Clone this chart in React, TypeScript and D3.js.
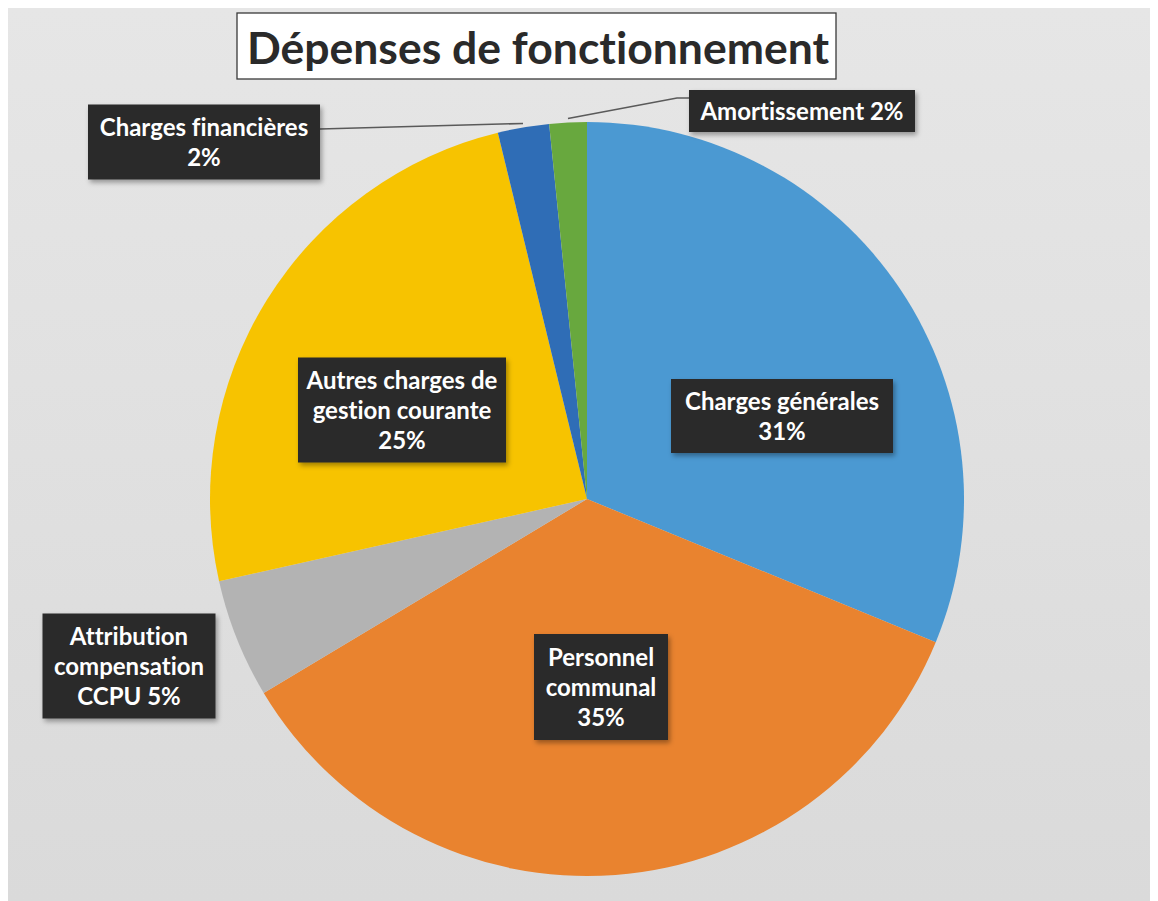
import React from "react";
import * as d3 from "d3";

const categories = [
  "Charges générales",
  "Personnel communal",
  "Attribution compensation CCPU",
  "Autres charges de gestion courante",
  "Charges financières",
  "Amortissement",
];
const values = [31.2, 35.2, 5.1, 24.7, 2.2, 1.6];
const percentLabels = ["31%", "35%", "5%", "25%", "2%", "2%"];
const labelLines = [
  ["Charges générales", "31%"],
  ["Personnel", "communal", "35%"],
  ["Attribution", "compensation", "CCPU 5%"],
  ["Autres charges de", "gestion courante", "25%"],
  ["Charges financières", "2%"],
  ["Amortissement 2%"],
];
const colors = ["#4b99d2", "#e9832f", "#b3b3b3", "#f7c300", "#2f6db6", "#68a83e"];
const title = "Dépenses de fonctionnement";

// layout (page coordinates): label box centers and sizes
const labelLayout = [
  { cx: 782, cy: 416, w: 222, h: 74 },
  { cx: 601, cy: 687, w: 134, h: 106 },
  { cx: 129, cy: 666, w: 173, h: 105 },
  { cx: 402, cy: 410, w: 208, h: 105 },
  { cx: 204, cy: 142, w: 232, h: 75 },
  { cx: 802, cy: 111, w: 226, h: 42 },
];

export default function App() {
  const W = 1158, H = 901;
  const cx = 587, cy = 499, r = 377;
  const pie = d3.pie<number>().sort(null).value((d) => d)(values);
  const arc = d3.arc<d3.PieArcDatum<number>>().innerRadius(0).outerRadius(r);
  const outer = d3.arc<d3.PieArcDatum<number>>().innerRadius(r + 2).outerRadius(r + 2);
  const font = "Lato, 'Open Sans', sans-serif";
  const lineH = 30;
  const line = d3.line();

  const finPt = outer.centroid(pie[4]);
  const amoPt = outer.centroid(pie[5]);
  const finBox = labelLayout[4];
  const amoBox = labelLayout[5];

  return (
    <svg width={W - 8} height={H - 8} style={{ display: "block" }}>
      <defs>
        <filter id="sh" x="-10%" y="-10%" width="130%" height="140%">
          <feDropShadow dx="2" dy="3" stdDeviation="2.5" floodColor="#000" floodOpacity="0.35" />
        </filter>
        <linearGradient id="bg" x1="0" y1="0" x2="0" y2="1">
          <stop offset="0" stopColor="#e6e6e6" />
          <stop offset="1" stopColor="#dadada" />
        </linearGradient>
      </defs>
      <g transform="translate(-8,-8)" style={{ fontVariantLigatures: "none" }}>
        <rect x={8} y={8} width={W - 8} height={H - 8} fill="url(#bg)" />
        <g transform={`translate(${cx},${cy})`}>
          {pie.map((p, i) => (
            <path key={categories[i]} d={arc(p) || ""} fill={colors[i]} />
          ))}
        </g>
        <path
          d={line([[finBox.cx + finBox.w / 2, 129], [cx + finPt[0], cy + finPt[1] - 2]]) || ""}
          stroke="#5a5a5a" strokeWidth={1.6} fill="none"
        />
        <path
          d={line([[amoBox.cx - amoBox.w / 2, 98], [amoBox.cx - amoBox.w / 2 - 12, 98], [cx + amoPt[0], cy + amoPt[1] - 2]]) || ""}
          stroke="#5a5a5a" strokeWidth={1.6} fill="none"
        />
        {labelLines.map((lines, i) => {
          const L = labelLayout[i];
          const n = lines.length;
          return (
            <g key={percentLabels[i] + i}>
              <rect x={L.cx - L.w / 2} y={L.cy - L.h / 2} width={L.w} height={L.h} fill="#2a2a2a" filter="url(#sh)" />
              {lines.map((t, j) => (
                <text
                  key={j}
                  x={L.cx}
                  y={L.cy + (j - (n - 1) / 2) * lineH + 9}
                  textAnchor="middle"
                  fill="#ffffff"
                  fontFamily={font}
                  fontWeight={700}
                  fontSize={24}
                >
                  {t}
                </text>
              ))}
            </g>
          );
        })}
        <rect x={237} y={13} width={599} height={66} fill="#ffffff" stroke="#3a3a3a" strokeWidth={1.3} />
        <text x={538} y={64} textAnchor="middle" fill="#2a2a2a" fontFamily={font} fontWeight={700} fontSize={44.5}>
          {title}
        </text>
      </g>
    </svg>
  );
}
